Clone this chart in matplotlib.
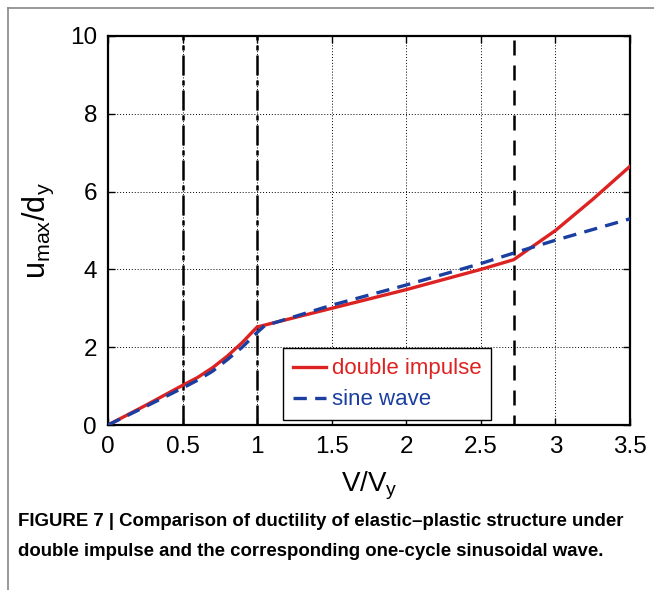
import matplotlib
matplotlib.use('Agg')
import matplotlib.pyplot as plt
from matplotlib.lines import Line2D

plt.rcParams['font.family'] = ['Liberation Sans', 'DejaVu Sans']
plt.rcParams['mathtext.default'] = 'regular'

# 数据
x_double = [0, 0.25, 0.5, 0.6, 0.7, 0.8, 0.9, 1.0, 1.5, 2.0, 2.5, 2.72, 3.0, 3.25, 3.5]
y_double = [0, 0.5, 1.02, 1.22, 1.47, 1.77, 2.12, 2.52, 3.0, 3.48, 4.0, 4.25, 5.0, 5.8, 6.65]
x_sine = [0, 0.25, 0.5, 0.6, 0.7, 0.8, 0.9, 1.0, 1.05, 1.5, 2.0, 2.5, 2.72, 3.0, 3.5]
y_sine = [0, 0.47, 0.95, 1.15, 1.38, 1.68, 2.0, 2.38, 2.55, 3.08, 3.6, 4.15, 4.42, 4.75, 5.3]
vlines_dashdot = [0.5, 1.0]
vline_dashed = 2.72
xticks = [0, 0.5, 1, 1.5, 2, 2.5, 3, 3.5]
xticklabels = ['0', '0.5', '1', '1.5', '2', '2.5', '3', '3.5']
yticks = [0, 2, 4, 6, 8, 10]

fig = plt.figure(figsize=(6.54, 5.90), dpi=100)
ax = fig.add_axes([108 / 654, 1 - 425 / 590, 522 / 654, 389 / 590])

ax.set_xlim(0, 3.5)
ax.set_ylim(0, 10)
ax.set_xticks(xticks)
ax.set_xticklabels(xticklabels)
ax.set_yticks(yticks)
ax.grid(True, color='black', linestyle=(0, (1, 2)), linewidth=0.7)
ax.tick_params(direction='in', top=True, right=True, length=5, width=1,
               labelsize=17.5, pad=8)
for s in ax.spines.values():
    s.set_linewidth(1.6)

for xv in vlines_dashdot:
    ax.axvline(xv, color='black', linewidth=1.8, linestyle=(0, (8, 2, 2, 2)), zorder=3)
ax.axvline(vline_dashed, color='black', linewidth=1.8, linestyle=(2, (6, 4)), zorder=3)

ax.plot(x_double, y_double, color='#dd2222', linewidth=2.4, zorder=4, label='double impulse')
ax.plot(x_sine, y_sine, color='#1a3fa0', linewidth=2.4, linestyle=(0, (4, 2.5)), zorder=5,
        label='sine wave')

leg = ax.legend(loc='lower left', bbox_to_anchor=(0.335, 0.012), fontsize=16,
                frameon=True, fancybox=False, edgecolor='black', framealpha=1,
                handlelength=1.5, handletextpad=0.25, borderpad=0.45, labelspacing=0.45,
                borderaxespad=0)
leg.get_frame().set_linewidth(1.0)
for t, c in zip(leg.get_texts(), ['#dd2222', '#1a3fa0']):
    t.set_color(c)

ax.set_xlabel('V/V$_y$', fontsize=20, labelpad=8)
ax.set_ylabel('u$_{max}$/d$_y$', fontsize=22, labelpad=10)

# 外框
fig.add_artist(Line2D([8 / 654, 8 / 654], [0, 1 - 8 / 590], transform=fig.transFigure,
                      color='#888888', linewidth=1.2))
fig.add_artist(Line2D([8 / 654, 1], [1 - 8 / 590, 1 - 8 / 590], transform=fig.transFigure,
                      color='#888888', linewidth=1.2))

fig.text(18 / 654, 1 - 522 / 590,
         'FIGURE 7 | Comparison of ductility of elastic\u2013plastic structure under',
         fontsize=13.4, fontweight='bold', va='center', ha='left')
fig.text(18 / 654, 1 - 551 / 590,
         'double impulse and the corresponding one-cycle sinusoidal wave.',
         fontsize=13.4, fontweight='bold', va='center', ha='left')

fig.savefig('out.png', dpi=100, facecolor='white')
